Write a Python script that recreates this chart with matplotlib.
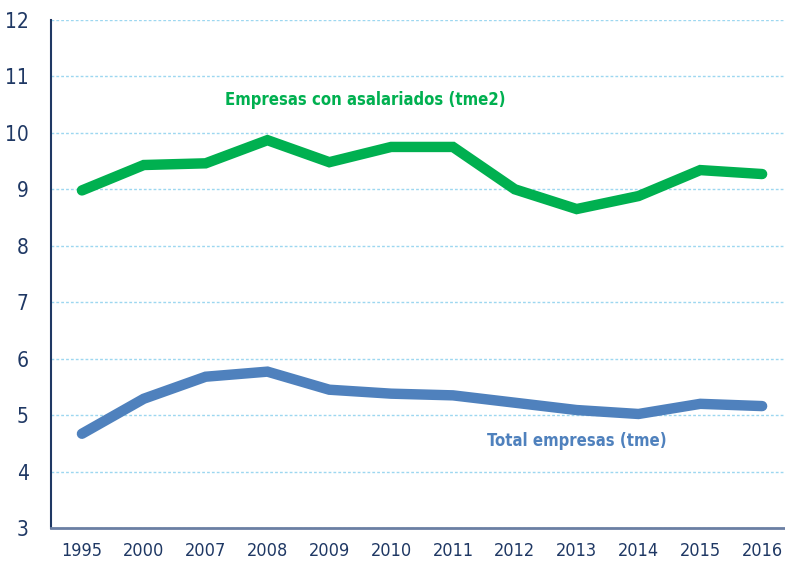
import matplotlib.pyplot as plt

years = ["1995", "2000", "2007", "2008", "2009", "2010", "2011", "2012", "2013", "2014", "2015", "2016"]
tme2 = [8.98, 9.43, 9.46, 9.87, 9.48, 9.75, 9.75, 9.00, 8.65, 8.88, 9.34, 9.27]
tme = [4.67, 5.29, 5.68, 5.77, 5.45, 5.38, 5.35, 5.22, 5.09, 5.02, 5.20, 5.16]
yticks = [3, 4, 5, 6, 7, 8, 9, 10, 11, 12]

plt.rcParams["font.family"] = "DejaVu Sans"
plt.rcParams["font.stretch"] = "condensed"

green = "#00b050"
blue = "#4f81bd"
navy = "#1f3864"

fig = plt.figure(figsize=(7.85, 5.69), dpi=100)
ax = fig.add_axes([0.065, 0.072, 0.935, 0.893])

x = list(range(len(years)))
ax.plot(x, tme2, color=green, lw=7.5, solid_capstyle="round", solid_joinstyle="miter")
ax.plot(x, tme, color=blue, lw=7.5, solid_capstyle="round", solid_joinstyle="miter")

ax.set_ylim(3, 12)
ax.set_xlim(-0.5, 11.37)
ax.set_yticks(yticks)
ax.set_xticks(x)
ax.set_xticklabels(years)
ax.yaxis.grid(True, color="#9dd7f0", ls=(0, (2, 1.5)), lw=1)
ax.set_axisbelow(True)

for s in ["top", "right"]:
    ax.spines[s].set_visible(False)
ax.spines["left"].set_color(navy)
ax.spines["left"].set_linewidth(1.5)
ax.spines["bottom"].set_color("#6b7fa3")
ax.spines["bottom"].set_linewidth(2)
ax.tick_params(length=0, labelsize=15, labelcolor=navy)
ax.tick_params(axis="x", labelsize=13, pad=10)
ax.tick_params(axis="y", pad=16)

ax.text(4.58, 10.58, "Empresas con asalariados (tme2)", color=green, fontsize=12,
        fontweight="bold", ha="center", va="center")
ax.text(8.0, 4.54, "Total empresas (tme)", color=blue, fontsize=12,
        fontweight="bold", ha="center", va="center")

fig.savefig("out.png", dpi=100)
